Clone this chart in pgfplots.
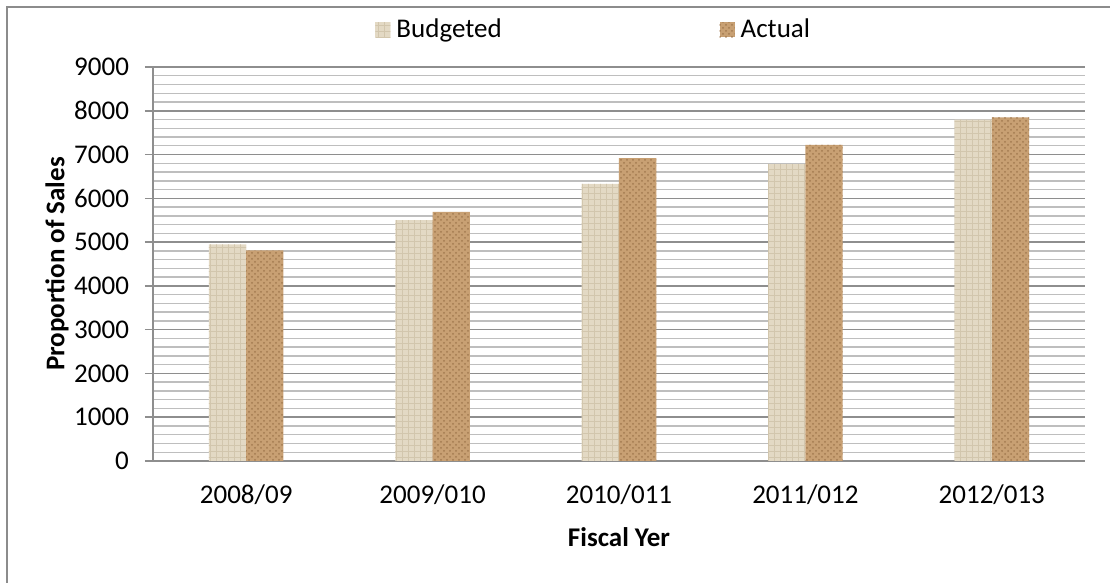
\documentclass[border=0pt]{standalone}
\usepackage{pgfplots}
\pgfplotsset{compat=1.18}
\usepackage{fontspec}
\setmainfont{Carlito}
\usetikzlibrary{patterns}
\definecolor{budget}{HTML}{E3D9C4}
\definecolor{budgetdk}{HTML}{D2C6AD}
\definecolor{actual}{HTML}{C8A073}
\definecolor{actualdk}{HTML}{A27A50}
\definecolor{framegray}{HTML}{8C8C8C}
\definecolor{majgrid}{HTML}{8E8E8E}
\definecolor{mingrid}{HTML}{BEBEBE}
\begin{document}
\begin{tikzpicture}[font=\fontsize{13.5}{16}\selectfont]
\useasboundingbox (0,0) rectangle (555pt,291.5pt);
\draw[framegray, line width=1pt] (3.5pt,0) -- (3.5pt,288pt) -- (555pt,288pt);
\begin{axis}[
 at={(76.5pt,61pt)}, anchor=south west,
 scale only axis, width=466pt, height=197pt,
 xmin=-0.5, xmax=4.5, ymin=0, ymax=9000,
 ybar=0pt,
 xtick={0,1,2,3,4},
 xticklabels={2008/09,2009/010,2010/011,2011/012,2012/013},
 ytick={0,1000,...,9000},
 minor y tick num=4,
 ymajorgrids, yminorgrids,
 major grid style={majgrid, line width=0.8pt},
 minor grid style={mingrid, line width=0.7pt},
 axis x line*=bottom, axis y line*=left,
 axis line style={majgrid, line width=1pt, -},
 x tick style={draw=none},
 y tick style={majgrid, line width=0.8pt},
 minor y tick style={draw=none},
 major tick length=4pt,
 tick align=outside,
 scaled y ticks=false,
 /pgf/number format/assume math mode=true,
 yticklabel style={/pgf/number format/1000 sep={}, font=\fontsize{13.5}{16}\selectfont, xshift=-4.5pt},
 xticklabel style={font=\fontsize{13.5}{16}\selectfont, yshift=-4.5pt},
 xlabel={\textbf{Fiscal Yer}},
 xlabel style={at={(axis description cs:0.5,-0.193)}, anchor=center},
 ylabel={\textbf{Proportion of Sales}},
 ylabel style={at={(axis description cs:-0.103,0.5)}, anchor=center},
 legend columns=2,
 legend style={at={(axis description cs:0.474,1.094)}, anchor=center, draw=none, fill=none,
   /tikz/every odd column/.append style={column sep=1pt},
   /tikz/every even column/.append style={column sep=107pt}},
 legend image code/.code={\fill[#1] (0pt,-3.75pt) rectangle (7.5pt,3.75pt);},
]
\addplot[bar width=0.2, bar shift=0pt, fill=budget, draw=none,
  postaction={pattern=grid, pattern color=budgetdk}]
  coordinates {(-0.1,4950) (0.9,5500) (1.9,6330) (2.9,6780) (3.9,7800)};
\addlegendentry{Budgeted}
\addplot[bar width=0.2, bar shift=0pt, fill=actual, draw=none,
  postaction={pattern=crosshatch dots, pattern color=actualdk}]
  coordinates {(0.1,4810) (1.1,5690) (2.1,6920) (3.1,7220) (4.1,7850)};
\addlegendentry{Actual}
\end{axis}
\end{tikzpicture}
\end{document}
